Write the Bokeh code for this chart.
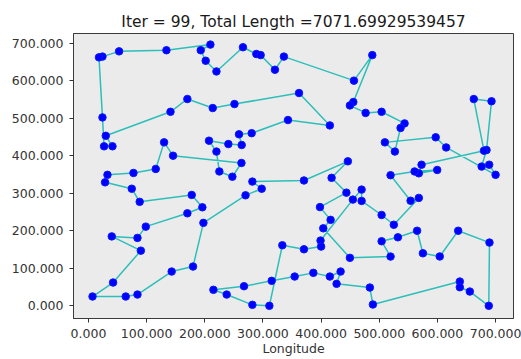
from bokeh.plotting import figure
from bokeh.models import Range1d, NumeralTickFormatter, SingleIntervalTicker
from bokeh.embed import file_html
from bokeh.resources import INLINE

title_text = "Iter = 99, Total Length =7071.69929539457"
x_label = "Longitude"

route_x = [24, 52.6, 134, 209.6, 193, 201.5, 220, 265.6, 288.6, 296, 320.6, 336,
           456.4, 488, 455.4, 449.5, 476.5, 504, 543.5, 536.6, 526.8, 509.6, 597, 615,
           700, 689, 676, 684.4, 693, 662.5, 680, 572.7, 568, 599.6, 560.7, 519.4,
           553.8, 568, 525, 504, 469.6, 469.6, 454.6, 399, 400, 370.5, 333.3,
           311, 281.8, 237.6, 214.8, 267.4, 315, 354.5, 386.6, 415, 433.5, 426.6,
           483.8, 489, 638.5, 638.5, 655.7, 688.3, 689.5, 635.7, 604, 575, 565,
           532, 504, 519.4, 449.5, 403.7, 416.3, 398, 443.5, 418, 446, 370.5,
           281.8, 297.8, 270, 197.6, 179.7, 143, 84.2, 64, 6.9, 42.3, 90, 40,
           84.2, 98.5, 170, 195.8, 177.5, 88, 74.4, 28.5, 32.6, 77.3, 115.6,
           130, 145.4, 263, 247.4, 225, 220, 207.2, 240.5, 263.4, 258.8, 280.6,
           343, 415, 362, 251, 213.6, 170, 141, 29.7, 41.2, 26.8, 24, 18]
route_y = [664, 678, 681, 696, 681, 653, 624.5, 689, 671, 668, 629, 664,
           600, 668, 543, 534, 514, 517, 486, 474, 411, 435.5, 449, 422,
           349, 376, 371, 415, 545, 551, 413.4, 376, 353, 362, 358, 348,
           280, 287.5, 216, 242, 279.5, 309.6, 283, 173.8, 157.8, 150.6, 161.3,
           0, 2.6, 30, 42.6, 52.2, 66.5, 78, 87.8, 78, 91.3, 58.6,
           48.7, 3.5, 64.7, 49.5, 38, 0, 168.5, 200, 131.5, 140, 200,
           182.6, 172, 131.2, 127.8, 206.5, 229, 263, 301.6, 341, 385, 334,
           331, 312, 294.4, 221, 104.6, 91.3, 30, 24.8, 24.8, 62, 147, 185,
           181, 211, 246.5, 262.5, 295.4, 277, 312, 329, 349, 354, 364.6,
           435.5, 400, 380.6, 344, 358, 411, 440, 431, 428.5, 457, 460,
           495, 480.7, 567, 537.6, 527, 551, 517, 453, 425, 425, 502, 662]

# close the tour
line_x = route_x + [route_x[0]]
line_y = route_y + [route_y[0]]

p = figure(width=521, height=359, output_backend="svg", toolbar_location=None,
           x_range=Range1d(-25.8, 730.8), y_range=Range1d(-33.8, 725.6),
           min_border_left=73, min_border_right=8, min_border_top=33,
           min_border_bottom=41, title=title_text)

p.title.text_font = "DejaVu Sans"
p.title.text_font_size = "15.5px"
p.title.text_font_style = "normal"
p.title.text_color = "#1a1a1a"
p.title.align = "center"
p.title.offset = 0
p.title.standoff = 5

p.background_fill_color = "#EBEBEB"
p.border_fill_color = "white"
p.outline_line_color = "#3a3a3a"
p.outline_line_width = 1
p.xgrid.visible = False
p.ygrid.visible = False

for ax in (p.xaxis[0], p.yaxis[0]):
    ax.ticker = SingleIntervalTicker(interval=100)
    ax.formatter = NumeralTickFormatter(format="0.000")
    ax.major_label_text_font = "DejaVu Sans"
    ax.major_label_text_font_size = "12.5px"
    ax.major_label_text_color = "#333333"
    ax.major_tick_out = 4
    ax.major_tick_in = 0
    ax.minor_tick_out = 0
    ax.minor_tick_in = 0
    ax.major_tick_line_color = "#333333"
    ax.axis_line_color = "#3a3a3a"

p.yaxis.major_label_standoff = 6
p.xaxis.major_label_standoff = 6

p.xaxis.axis_label = x_label
p.xaxis.axis_label_text_font = "DejaVu Sans"
p.xaxis.axis_label_text_font_size = "12.5px"
p.xaxis.axis_label_text_font_style = "normal"
p.xaxis.axis_label_text_color = "#333333"
p.xaxis.axis_label_standoff = 0

p.line(line_x, line_y, line_color="#2cbfb9", line_width=1.5)
p.scatter(route_x, route_y, size=7.5, fill_color="#0000ff", line_color="#0a1aff")

open("out.html", "w").write(file_html(p, INLINE))
